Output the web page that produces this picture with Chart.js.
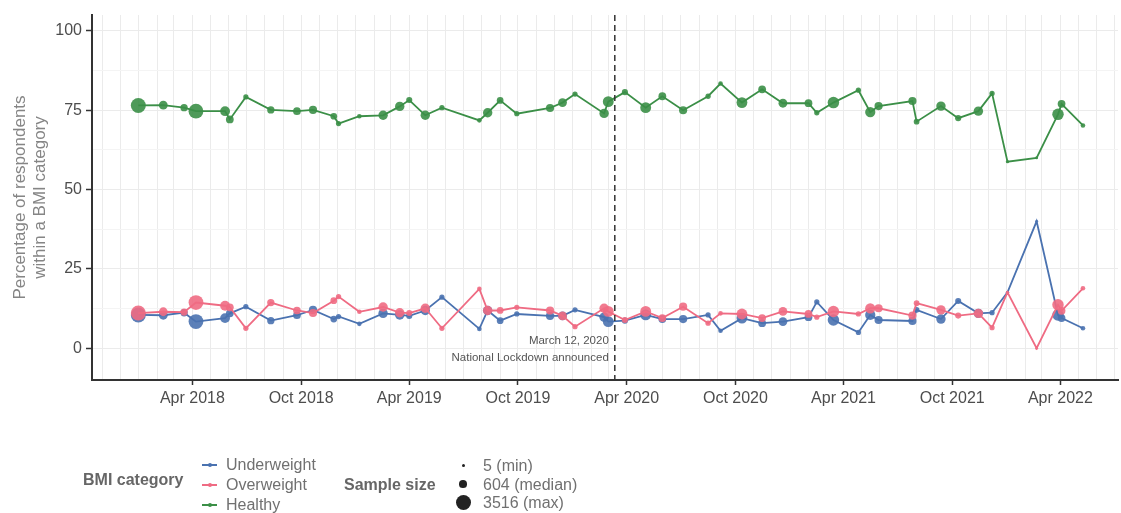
<!DOCTYPE html>
<html>
<head>
<meta charset="utf-8">
<script src="https://cdn.jsdelivr.net/npm/chart.js@4.4.1/dist/chart.umd.min.js"></script>
<style>
  html, body { margin: 0; padding: 0; background: #fff; }
  #wrap { position: relative; width: 1121px; height: 513px; overflow: hidden; font-family: "Liberation Sans", Arial, sans-serif; }
  #bmiChart { position: absolute; left: 0; top: 0; }
  #legend div { position: absolute; white-space: nowrap; }
  .lg-title { font-weight: bold; color: #666; font-size: 16px; line-height: 18px; }
  .lg-label { color: #707070; font-size: 16px; line-height: 18px; }
</style>
</head>
<body>
<div id="wrap">
  <canvas id="bmiChart" width="1121" height="513"></canvas>
  <div id="legend"></div>
</div>
<script>
// survey waves (one point per wave, same for every BMI category)
const waveDates = [
    '2017-12-31', '2018-02-11', '2018-03-18', '2018-04-07', '2018-05-26', '2018-06-03', '2018-06-30',
    '2018-08-11', '2018-09-24', '2018-10-21', '2018-11-25', '2018-12-03', '2019-01-07', '2019-02-16',
    '2019-03-16', '2019-04-01', '2019-04-28', '2019-05-26', '2019-07-28', '2019-08-11', '2019-09-01',
    '2019-09-29', '2019-11-24', '2019-12-15', '2020-01-05', '2020-02-23', '2020-03-01', '2020-03-29',
    '2020-05-03', '2020-05-31', '2020-07-05', '2020-08-16', '2020-09-06', '2020-10-12', '2020-11-15',
    '2020-12-20', '2021-02-01', '2021-02-15', '2021-03-15', '2021-04-26', '2021-05-16', '2021-05-30',
    '2021-07-26', '2021-08-02', '2021-09-12', '2021-10-11', '2021-11-14', '2021-12-07', '2022-01-02',
    '2022-02-20', '2022-03-28', '2022-04-03', '2022-05-09'
];
const sampleSize = [
    3516, 890, 520, 3400, 1200, 620, 170, 520, 604, 720, 400, 170, 100, 1070,
    1070, 290, 1070, 170, 100, 1070, 400, 170, 720, 890, 170, 1070, 1570, 290,
    1570, 620, 720, 170, 100, 1570, 620, 890, 620, 170, 1810, 170, 1340, 720,
    720, 230, 1070, 290, 1070, 170, 17, 5, 1810, 620, 100
];
const underweight = [
    10.5, 10.4, 11.2, 8.4, 9.5, 11.0, 13.1, 8.7, 10.4, 12.1, 9.2, 10.0, 7.7, 11.0,
    10.5, 10.2, 11.9, 16.1, 6.1, 11.9, 8.7, 10.8, 10.2, 10.2, 12.1, 9.8, 8.4, 8.7,
    10.5, 9.2, 9.2, 10.5, 5.5, 9.5, 7.9, 8.4, 9.8, 14.6, 8.9, 5.0, 10.5, 8.9,
    8.6, 12.1, 9.2, 14.9, 11.0, 11.2, 17.6, 40.0, 10.5, 9.5, 6.3
];
const overweight = [
    11.1, 11.5, 11.4, 14.4, 13.4, 12.9, 6.3, 14.4, 11.9, 11.1, 15.0, 16.3, 11.5, 13.0,
    11.2, 11.1, 12.6, 6.3, 18.7, 11.9, 11.9, 12.9, 11.9, 10.2, 6.8, 12.6, 11.6, 8.9,
    11.6, 9.5, 13.1, 7.9, 11.0, 10.8, 9.5, 11.6, 10.8, 9.8, 11.6, 10.8, 12.6, 12.6,
    10.3, 14.2, 12.1, 10.3, 11.0, 6.5, 17.6, 0.0, 13.7, 11.8, 18.9
];
const healthy = [
    76.5, 76.6, 75.8, 74.7, 74.7, 72.1, 79.2, 75.1, 74.7, 75.1, 73.1, 70.8, 73.1, 73.4,
    76.2, 78.2, 73.4, 75.8, 71.8, 74.2, 78.1, 73.9, 75.7, 77.4, 80.1, 74.0, 77.7, 80.7,
    75.8, 79.4, 75.0, 79.4, 83.4, 77.4, 81.6, 77.2, 77.2, 74.2, 77.4, 81.3, 74.4, 76.3,
    77.9, 71.4, 76.3, 72.5, 74.7, 80.3, 58.8, 60.0, 73.7, 77.0, 70.2
];

const seriesNames = ['Underweight', 'Overweight', 'Healthy'];
const seriesColors = ['#4a72b0', '#ef6b83', '#3b8f47'];
const yLabelTicks = [0, 25, 50, 75, 100];
const yMinorTicks = [12.5, 37.5, 62.5, 87.5];
const xLabelMonths = ['Apr', 'Oct'];
const sizeBreaks = [5, 604, 3516];
const sizeLabels = ['5 (min)', '604 (median)', '3516 (max)'];
const lockdownDate = '2020-03-12';
const lockdownText = ['March 12, 2020', 'National Lockdown announced'];

const FONT = '"Liberation Sans", Arial, sans-serif';
const MONTHS = ['Jan', 'Feb', 'Mar', 'Apr', 'May', 'Jun', 'Jul', 'Aug', 'Sep', 'Oct', 'Nov', 'Dec'];

function toTime(s) {
    const [y, m, d] = s.split('-').map(Number);
    return Date.UTC(y, m - 1, d);
}

// area-style size scale like ggplot's scale_size
function sizeToRadius(n) {
    const lo = Math.sqrt(sizeBreaks[0]);
    const hi = Math.sqrt(sizeBreaks[2]);
    return 1.5 + 6 * (Math.sqrt(n) - lo) / (hi - lo);
}

function withAlpha(hex, a) {
    const v = parseInt(hex.slice(1), 16);
    return `rgba(${v >> 16}, ${(v >> 8) & 255}, ${v & 255}, ${a})`;
}

// monthly grid lines, labels only on Apr / Oct
const monthTicks = [];
for (let y = 2017, m = 10; y < 2022 || (y === 2022 && m <= 6);) {
    monthTicks.push(Date.UTC(y, m, 1));
    m++;
    if (m > 11) { m = 0; y++; }
}
function monthLabel(v) {
    const d = new Date(v);
    const name = MONTHS[d.getUTCMonth()];
    return xLabelMonths.includes(name) ? `${name} ${d.getUTCFullYear()}` : '';
}

const radii = sampleSize.map(sizeToRadius);
const order = [1, 0, 2]; // overweight points sit above underweight

const datasets = seriesNames.map((name, k) => {
    const values = [underweight, overweight, healthy][k];
    return {
        label: name,
        data: waveDates.map((d, i) => ({ x: toTime(d), y: values[i] })),
        borderColor: seriesColors[k],
        borderWidth: 1.8,
        pointBackgroundColor: withAlpha(seriesColors[k], 0.9),
        pointBorderWidth: 0,
        pointRadius: radii,
        pointHoverRadius: radii,
        tension: 0,
        order: order[k]
    };
});

const lockdownPlugin = {
    id: 'lockdown',
    afterDatasetsDraw(chart) {
        const { ctx, chartArea, scales } = chart;
        const x = scales.x.getPixelForValue(toTime(lockdownDate));
        ctx.save();
        ctx.strokeStyle = '#333';
        ctx.lineWidth = 1.5;
        ctx.setLineDash([6, 4]);
        ctx.beginPath();
        ctx.moveTo(x, chartArea.top);
        ctx.lineTo(x, chartArea.bottom);
        ctx.stroke();
        ctx.setLineDash([]);
        ctx.fillStyle = '#555';
        ctx.font = `11.5px ${FONT}`;
        ctx.textAlign = 'right';
        ctx.textBaseline = 'middle';
        ctx.fillText(lockdownText[0], x - 6, scales.y.getPixelForValue(2.3));
        ctx.fillText(lockdownText[1], x - 6, scales.y.getPixelForValue(-3.1));
        ctx.restore();
    }
};

new Chart(document.getElementById('bmiChart'), {
    type: 'line',
    data: { datasets },
    options: {
        responsive: false,
        animation: false,
        layout: { autoPadding: false, padding: { top: 15, right: 3, bottom: 93, left: 0 } },
        plugins: { legend: { display: false }, tooltip: { enabled: false } },
        scales: {
            x: {
                type: 'linear',
                min: toTime('2017-10-14'),
                max: toTime('2022-07-07'),
                afterBuildTicks: s => { s.ticks = monthTicks.map(v => ({ value: v })); },
                afterFit: s => { s.height = 40; },
                grid: {
                    color: '#ebebeb',
                    tickLength: 5,
                    tickWidth: 1.5,
                    tickColor: c => monthLabel(c.tick.value) ? '#333' : 'rgba(0,0,0,0)'
                },
                border: { display: true, color: '#333', width: 2 },
                ticks: {
                    autoSkip: false, maxRotation: 0, minRotation: 0, padding: 4,
                    color: '#4d4d4d', font: { size: 16, family: FONT },
                    callback: v => monthLabel(v)
                }
            },
            y: {
                min: -10,
                max: 105,
                afterBuildTicks: s => {
                    s.ticks = yLabelTicks.concat(yMinorTicks).sort((a, b) => a - b).map(v => ({ value: v }));
                },
                afterFit: s => { s.width = 92; },
                grid: {
                    color: c => yLabelTicks.includes(c.tick.value) ? '#ebebeb' : '#f4f4f4',
                    tickLength: 6,
                    tickWidth: 1.5,
                    tickColor: c => yLabelTicks.includes(c.tick.value) ? '#333' : 'rgba(0,0,0,0)'
                },
                border: { display: true, color: '#333', width: 2 },
                ticks: {
                    padding: 4, color: '#4d4d4d', font: { size: 16, family: FONT },
                    callback: v => yLabelTicks.includes(v) ? String(v) : ''
                },
                title: {
                    display: true,
                    text: ['Percentage of respondents', 'within a BMI category'],
                    color: '#858585',
                    font: { size: 17, family: FONT, lineHeight: 1.15 },
                    padding: { top: 11, bottom: 0 }
                }
            }
        }
    },
    plugins: [lockdownPlugin]
});

// legend below the plot
const legendEl = document.getElementById('legend');
function addDiv(cls, text, left, centerY) {
    const d = document.createElement('div');
    d.className = cls;
    d.textContent = text;
    d.style.left = left + 'px';
    d.style.top = (centerY - 9) + 'px';
    legendEl.appendChild(d);
    return d;
}
function addShape(left, top, w, h, bg, round) {
    const d = document.createElement('div');
    Object.assign(d.style, {
        left: left + 'px', top: top + 'px', width: w + 'px', height: h + 'px',
        background: bg, borderRadius: round ? '50%' : '0'
    });
    legendEl.appendChild(d);
}

addDiv('lg-title', 'BMI category', 83, 480);
const keyY = [465, 485, 505];
seriesNames.forEach((name, k) => {
    addShape(202, keyY[k] - 0.75, 15, 1.5, seriesColors[k], false);
    addShape(209.5 - 2, keyY[k] - 2, 4, 4, seriesColors[k], true);
    addDiv('lg-label', name, 226, keyY[k]);
});

addDiv('lg-title', 'Sample size', 344, 485);
const sizeY = [465, 484, 502];
sizeBreaks.forEach((n, k) => {
    const r = sizeToRadius(n);
    addShape(463 - r, sizeY[k] - r, 2 * r, 2 * r, '#222', true);
    addDiv('lg-label', sizeLabels[k], 483, sizeY[k] + 1);
});
</script>
</body>
</html>
